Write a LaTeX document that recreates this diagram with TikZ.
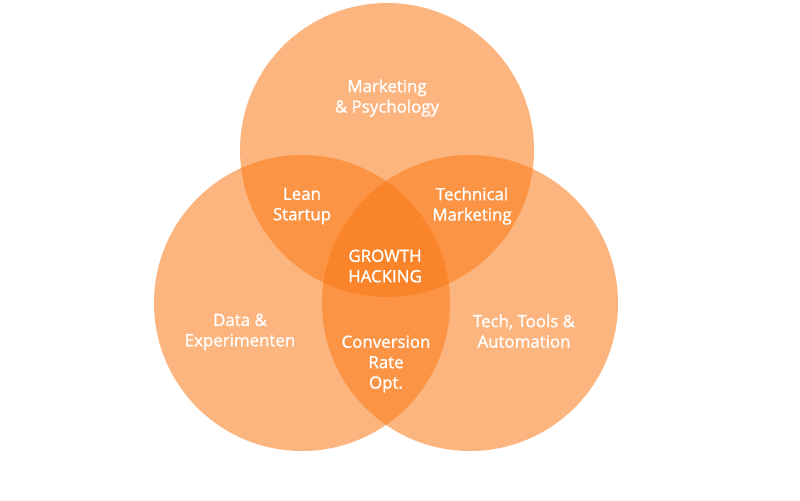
\documentclass[tikz,border=0pt]{standalone}
\usepackage{fontspec}
\setmainfont{Open Sans}
\newfontfamily\vennfont[FakeBold=1.2]{Open Sans}
\definecolor{vennorange}{RGB}{250,120,20}
\begin{document}
\begin{tikzpicture}[x=0.025cm,y=-0.025cm,
        area/.style={fill=vennorange,fill opacity=0.55},
        label/.style={text=white,align=center,font=\vennfont\fontsize{12}{14.5}\selectfont}]
        \useasboundingbox (0,0) rectangle (800,500);

        \fill[area] (387,150) circle (147);
        \fill[area] (302,303) circle (148);
        \fill[area] (470,303) circle (148);

        \node[label] (mkt) at (387,98) {Marketing\\\& Psychology};
        \node[label] (lean) at (302,206) {Lean\\Startup};
        \node[label] (tech) at (472,206) {Technical\\Marketing};
        \node[label] (growth) at (385,266) {GROWTH\\HACKING};
        \node[label] (data) at (240,332) {Data \&\\Experimenten};
        \node[label] (cro) at (386,364) {Conversion\\Rate\\Opt.};
        \node[label] (tools) at (524,331) {Tech, Tools \&\\Automation};
    \end{tikzpicture}
\end{document}
